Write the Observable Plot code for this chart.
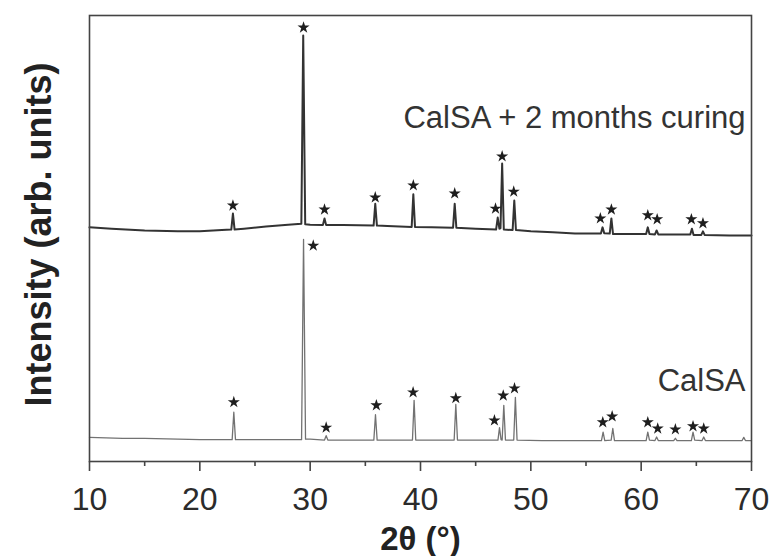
<!DOCTYPE html>
<html>
<head>
<meta charset="utf-8">
<script src="https://cdn.jsdelivr.net/npm/d3@7"></script>
<script src="https://cdn.jsdelivr.net/npm/@observablehq/plot@0.6"></script>
<style>
  html, body { margin: 0; padding: 0; background: #fff; }
  #chart svg { display: block; }
</style>
</head>
<body>
<div id="chart"></div>
<script>
// XRD patterns: 2θ (degrees) against stacked intensity (arbitrary units)

// CalSA + 2 months curing (upper pattern)
const curedTheta = [10, 12, 15, 18, 20, 22,
  22.85, 23.0, 23.15, 24, 26, 28, 29.2, 29.37, 29.55,
  30, 31.15, 31.3, 31.45, 33, 35.75, 35.9, 36.05,
  37, 39.2, 39.35, 39.5, 41, 42.95, 43.1, 43.25,
  45, 46.85, 47.0, 47.15, 47.25, 47.4, 47.55, 48.35, 48.5, 48.65,
  50, 52, 54, 56.35, 56.5, 56.65, 57.15, 57.3, 57.45,
  59, 60.45, 60.6, 60.75, 61.25, 61.4, 61.55,
  63, 64.45, 64.6, 64.75, 65.45, 65.6, 65.75, 68, 70];
const curedIntensity = [52.5, 52.2, 51.8, 51.6, 51.6, 51.9,
  52.0, 55.6, 52.0, 52.2, 52.7, 53.1, 53.3, 95.5, 53.2,
  53.1, 53.0, 54.5, 53.0, 53.0, 52.9, 57.8, 52.9,
  52.8, 52.6, 59.9, 52.6, 52.5, 52.4, 57.8, 52.4,
  52.2, 52.0, 54.7, 52.2, 52.3, 66.8, 52.0, 51.9, 58.5, 51.9,
  51.6, 51.4, 51.1, 51.1, 52.5, 51.2, 51.1, 54.5, 51.0,
  51.0, 51.0, 52.5, 51.0, 50.9, 51.8, 50.9,
  50.9, 50.9, 52.2, 50.8, 50.8, 51.6, 50.8, 50.7, 50.7];

// CalSA (lower pattern)
const calsaTheta = [10, 13, 15, 18, 20, 22.93, 23.08, 23.23,
  25, 27, 29.22, 29.4, 29.58, 30, 31.3, 31.45, 31.6,
  33, 35.77, 35.92, 36.07, 38, 39.27, 39.42, 39.57,
  41, 43.05, 43.2, 43.35, 45, 47.02, 47.16, 47.3, 47.4, 47.55, 47.7,
  48.45, 48.6, 48.75, 51, 54, 56.4, 56.55, 56.7, 57.28, 57.43, 57.58,
  59, 60.45, 60.6, 60.75, 61.25, 61.4, 61.55, 62.95, 63.1, 63.25,
  64.55, 64.7, 64.85, 65.52, 65.67, 65.82, 67, 69.15, 69.3, 69.45, 70];
const calsaIntensity = [5.4, 5.2, 5.2, 5.0, 4.9, 4.9, 11.05, 4.9,
  4.9, 4.9, 4.9, 49.8, 5.0, 5.0, 4.8, 5.8, 4.8,
  4.8, 4.8, 10.5, 4.8, 4.8, 4.8, 13.7, 4.8,
  4.8, 4.8, 12.8, 4.8, 4.8, 4.8, 7.6, 4.9, 4.8, 12.6, 4.8,
  4.8, 14.4, 4.8, 4.7, 4.7, 4.7, 6.6, 4.7, 4.8, 7.4, 4.7,
  4.7, 4.7, 6.6, 4.8, 4.7, 5.5, 4.7, 4.7, 5.2, 4.7,
  4.7, 6.6, 4.8, 4.7, 5.5, 4.7, 4.7, 4.7, 5.4, 4.7, 4.7];

// reflection markers (star centres, 2θ and intensity)
const curedStarTheta = [23.0, 29.4, 31.3, 35.9, 39.35, 43.1, 46.8, 47.4, 48.45, 56.3, 57.3, 60.6, 61.45, 64.55, 65.6];
const curedStarIntensity = [57.4, 97.3, 56.5, 59.2, 61.9, 60.1, 56.7, 68.4, 60.5, 54.5, 56.5, 55.2, 54.3, 54.3, 53.4];
const calsaStarTheta = [23.08, 30.28, 31.45, 36.0, 39.33, 43.2, 46.7, 47.5, 48.52, 56.52, 57.37, 60.6, 61.5, 63.1, 64.7, 65.67];
const calsaStarIntensity = [13.3, 48.4, 7.6, 12.6, 15.5, 14.2, 9.2, 14.8, 16.4, 8.8, 10.1, 8.8, 7.4, 7.2, 7.9, 7.4];

// pattern labels
const patternNames = ["CalSA + 2 months curing", "CalSA"];
const patternLabelIntensity = [76.9, 18.0];

const majorTicks = [10, 20, 30, 40, 50, 60, 70];
const minorTicks = [15, 25, 35, 45, 55, 65];

const cured = curedTheta.map((t, i) => ({theta: t, intensity: curedIntensity[i]}));
const calsa = calsaTheta.map((t, i) => ({theta: t, intensity: calsaIntensity[i]}));
const stars = [
  ...curedStarTheta.map((t, i) => ({theta: t, intensity: curedStarIntensity[i]})),
  ...calsaStarTheta.map((t, i) => ({theta: t, intensity: calsaStarIntensity[i]}))
];
const labels = patternNames.map((name, i) => ({name, intensity: patternLabelIntensity[i]}));

const ink = "#2b2b2b";

const chart = Plot.plot({
  width: 770,
  height: 556,
  marginLeft: 89,
  marginRight: 19,
  marginTop: 15,
  marginBottom: 95,
  style: {fontFamily: "'Liberation Sans', Arial, sans-serif", color: ink, background: "#fff"},
  x: {domain: [10, 70]},
  y: {domain: [0, 100], axis: null},
  marks: [
    Plot.axisX({ticks: minorTicks, tickSize: 5, text: null, label: null, stroke: "#444", strokeWidth: 1.6}),
    Plot.axisX({ticks: majorTicks, tickSize: 10, tickPadding: 16, fontSize: 32, label: null, stroke: "#444", strokeWidth: 1.6, tickFormat: d => String(d)}),
    Plot.line(calsa, {x: "theta", y: "intensity", stroke: "#727272", strokeWidth: 1.3}),
    Plot.line(cured, {x: "theta", y: "intensity", stroke: "#333", strokeWidth: 2}),
    Plot.dot(stars, {x: "theta", y: "intensity", symbol: "star", r: 3.8, fill: "#1e1e1e", stroke: null}),
    Plot.text(labels, {x: 70, y: "intensity", text: "name", textAnchor: "end", dx: -6, fontSize: 31, fill: "#333"}),
    Plot.text(["Intensity (arb. units)"], {frameAnchor: "left", textAnchor: "middle", dx: -50, dy: -4, rotate: -90, fontSize: 36, fontWeight: "bold", fill: "#222"}),
    Plot.text(["2θ (°)"], {frameAnchor: "bottom", dy: 88, fontSize: 33, fontWeight: "bold", fill: "#222"}),
    Plot.frame({stroke: "#444", strokeWidth: 1.6})
  ]
});

document.getElementById("chart").appendChild(chart);
</script>
</body>
</html>
